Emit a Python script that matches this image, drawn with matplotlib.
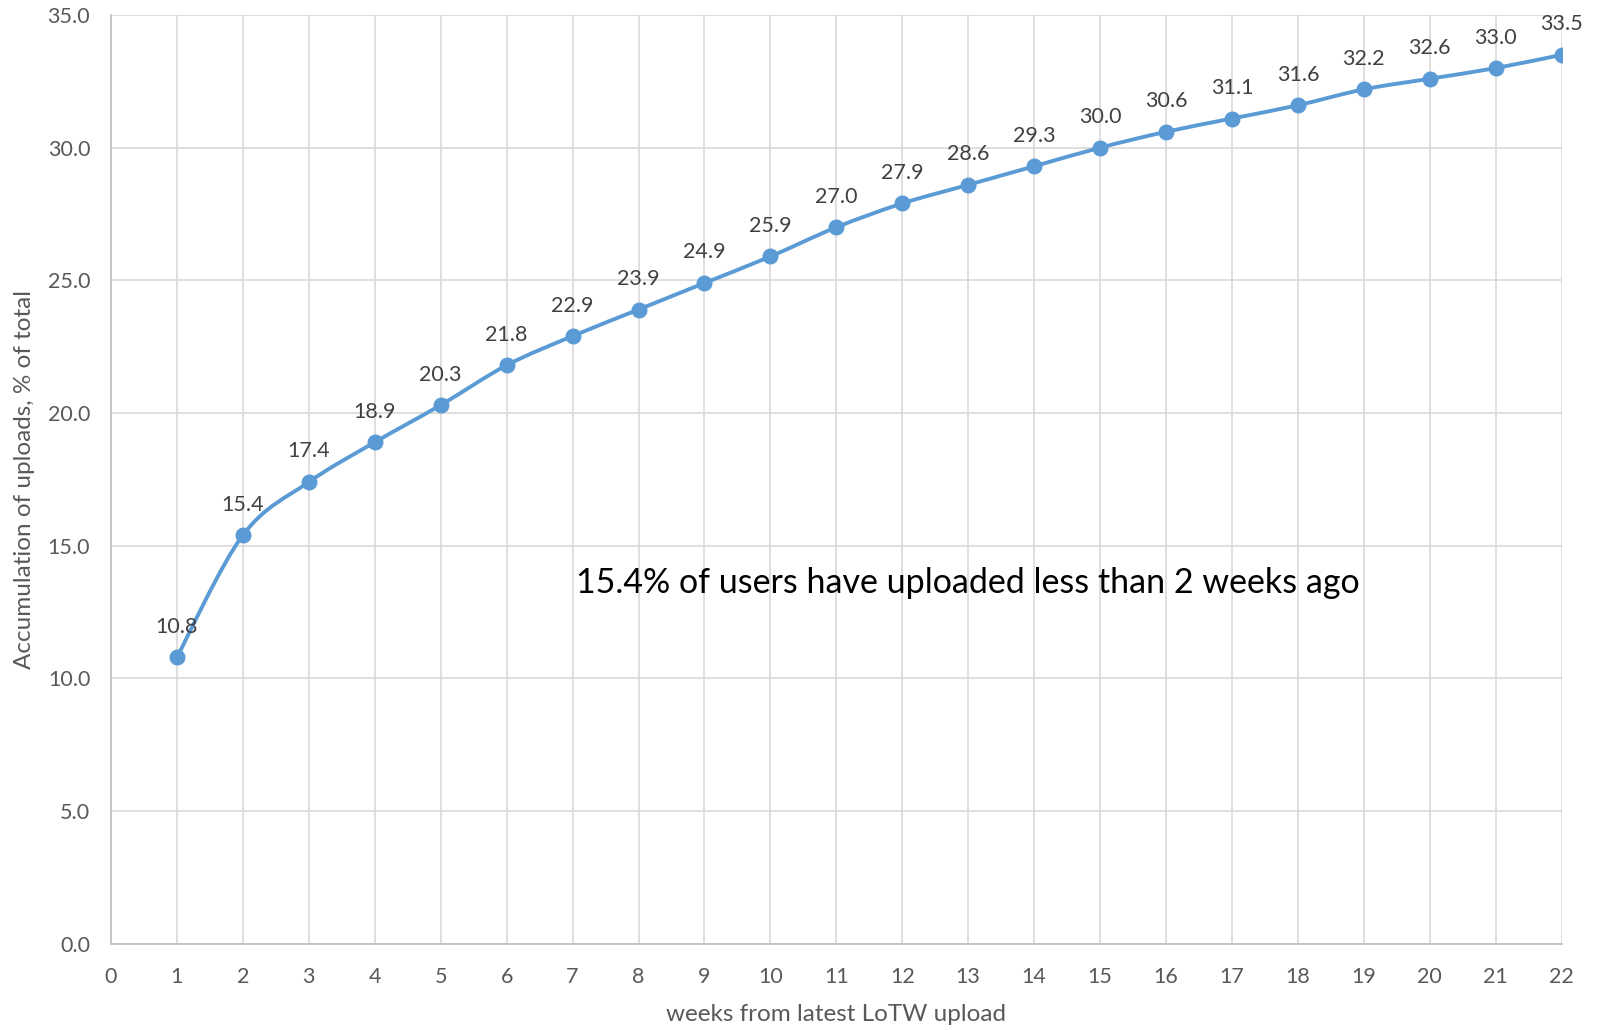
import numpy as np
import matplotlib.pyplot as plt
from matplotlib.path import Path
from matplotlib.patches import PathPatch

weeks = [1, 2, 3, 4, 5, 6, 7, 8, 9, 10, 11, 12, 13, 14, 15, 16, 17, 18, 19, 20, 21, 22]
accum = [10.8, 15.4, 17.4, 18.9, 20.3, 21.8, 22.9, 23.9, 24.9, 25.9, 27.0,
         27.9, 28.6, 29.3, 30.0, 30.6, 31.1, 31.6, 32.2, 32.6, 33.0, 33.5]
note = '15.4% of users have uploaded less than 2 weeks ago'

BLUE = '#5B9BD5'
GRID = '#D9D9D9'
TXT = '#595959'

plt.rcParams['font.family'] = ['Lato', 'DejaVu Sans']


def smooth_path(x, y, t=1 / 6):
    # excel-like smoothed line: catmull-rom as cubic bezier segments
    x = np.asarray(x, float)
    y = np.asarray(y, float)
    pts = np.column_stack([x, y])
    n = len(pts)
    verts = [pts[0]]
    codes = [Path.MOVETO]
    for i in range(n - 1):
        p0 = pts[i - 1] if i > 0 else pts[i]
        p1 = pts[i]
        p2 = pts[i + 1]
        p3 = pts[i + 2] if i + 2 < n else pts[i + 1]
        c1 = p1 + (p2 - p0) * t
        c2 = p2 - (p3 - p1) * t
        verts += [c1, c2, p2]
        codes += [Path.CURVE4] * 3
    return Path(verts, codes)


fig = plt.figure(figsize=(16, 10.3), dpi=100)
ax = fig.add_axes([0.0694, 0.0838, 0.9066, 0.9016])

ax.add_patch(PathPatch(smooth_path(weeks, accum), facecolor='none',
                       edgecolor=BLUE, lw=2.8, zorder=3))
ax.plot(weeks, accum, 'o', color=BLUE, ms=10.5, zorder=4)

for xv, yv in zip(weeks, accum):
    ax.annotate(f'{yv:.1f}', (xv, yv), xytext=(0, 22), textcoords='offset points',
                ha='center', va='center', fontsize=15.5, color='#404040')

ax.text(7.05, 13.6, note, fontsize=24.5, color='black', va='center', ha='left')

ax.set_xlim(0, 22)
ax.set_ylim(0, 35)
ax.set_xticks(range(0, 23))
ax.set_yticks(np.arange(0, 35.1, 5))
ax.set_yticklabels([f'{v:.1f}' for v in np.arange(0, 35.1, 5)])
ax.grid(True, color=GRID, lw=1.2)
ax.set_axisbelow(True)
ax.tick_params(length=0, labelsize=15.5, labelcolor=TXT)
ax.tick_params(axis='x', pad=17)
ax.tick_params(axis='y', pad=15)
for s in ['top', 'right']:
    ax.spines[s].set_visible(False)
for s in ['left', 'bottom']:
    ax.spines[s].set_color('#BFBFBF')
    ax.spines[s].set_linewidth(1.2)

ax.set_xlabel('weeks from latest LoTW upload', fontsize=17.5, color=TXT, labelpad=12)
ax.set_ylabel('Accumulation of uploads, % of total', fontsize=17.5, color=TXT, labelpad=9)

fig.savefig('out.png', dpi=100)
